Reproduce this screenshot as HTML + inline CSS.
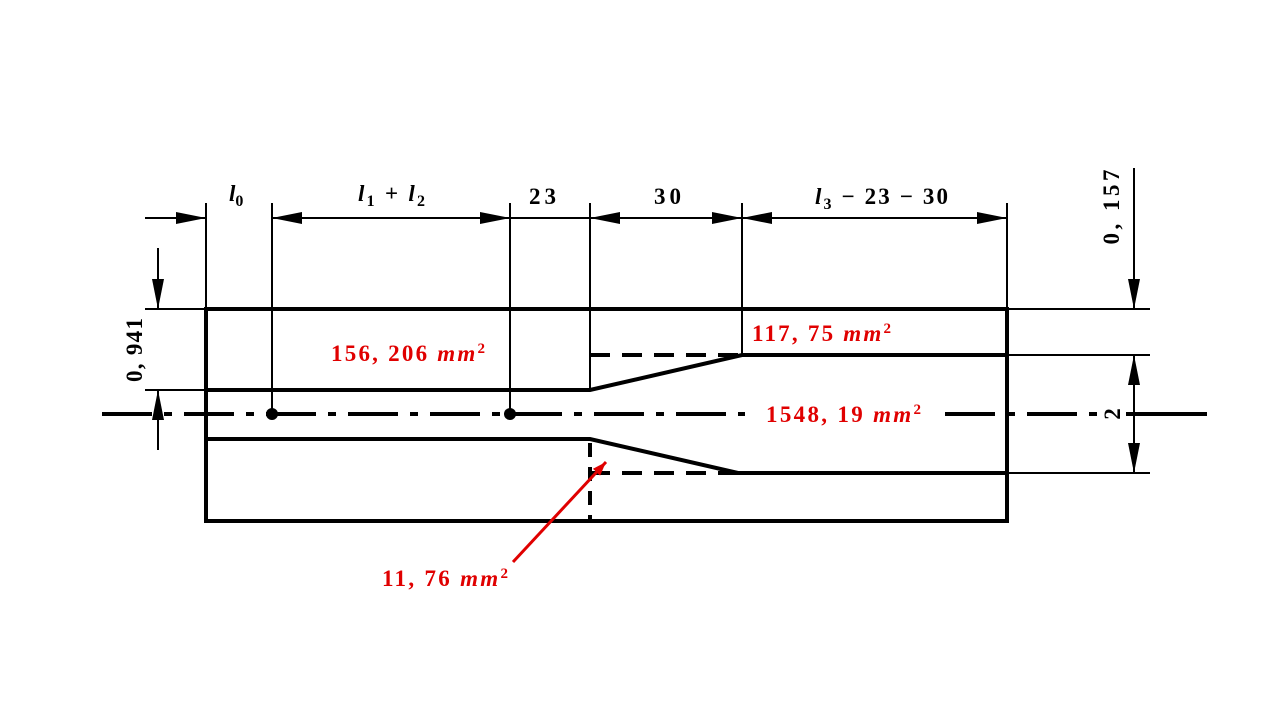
<!DOCTYPE html>
<html><head><meta charset="utf-8"><style>
html,body{margin:0;padding:0;background:#fff;}
svg{display:block;}
text{font-family:"Liberation Serif",serif;font-weight:bold;}
.t{font-size:23px;fill:#000;}
.r{font-size:23px;fill:#e00000;}
</style></head><body>
<svg width="1280" height="720" viewBox="0 0 1280 720">
<defs>
<marker id="ar" viewBox="0 0 30 12" refX="30" refY="6" markerWidth="30" markerHeight="12" markerUnits="userSpaceOnUse" orient="auto"><path d="M0,0 L30,6 L0,12 Z" fill="#000"/></marker>
<marker id="rar" viewBox="0 0 14 10" refX="14" refY="5" markerWidth="14" markerHeight="10" markerUnits="userSpaceOnUse" orient="auto"><path d="M0,0 L14,5 L0,10 Z" fill="#e00000"/></marker>
</defs>
<g stroke="#000" fill="none">
<rect x="206" y="309" width="801" height="212" stroke-width="4"/>
<polyline points="206,390 590,390 742,355 1007,355" stroke-width="4"/>
<polyline points="206,439 590,439 738,473 1007,473" stroke-width="4"/>
<line x1="590" y1="355" x2="742" y2="355" stroke-width="4" stroke-dasharray="20,12"/>
<line x1="590" y1="473" x2="738" y2="473" stroke-width="4" stroke-dasharray="20,12"/>
<line x1="590" y1="443" x2="590" y2="521" stroke-width="4" stroke-dasharray="14,10"/>
<line x1="102" y1="414" x2="745" y2="414" stroke-width="4" stroke-dasharray="50,12,8,12"/>
<line x1="945" y1="414" x2="1100" y2="414" stroke-width="4" stroke-dasharray="50,12,8,12"/>
<line x1="1126" y1="414" x2="1207" y2="414" stroke-width="4"/>
</g>
<g stroke="#000" stroke-width="2" fill="none">
<line x1="206" y1="203" x2="206" y2="309"/>
<line x1="272" y1="203" x2="272" y2="414"/>
<line x1="510" y1="203" x2="510" y2="414"/>
<line x1="590" y1="203" x2="590" y2="390"/>
<line x1="742" y1="203" x2="742" y2="355"/>
<line x1="1007" y1="203" x2="1007" y2="309"/>
<line x1="145" y1="218" x2="206" y2="218" marker-end="url(#ar)"/>
<line x1="330" y1="218" x2="272" y2="218" marker-end="url(#ar)"/>
<line x1="330" y1="218" x2="510" y2="218" marker-end="url(#ar)"/>
<line x1="510" y1="218" x2="590" y2="218"/>
<line x1="666" y1="218" x2="590" y2="218" marker-end="url(#ar)"/>
<line x1="666" y1="218" x2="742" y2="218" marker-end="url(#ar)"/>
<line x1="870" y1="218" x2="742" y2="218" marker-end="url(#ar)"/>
<line x1="870" y1="218" x2="1007" y2="218" marker-end="url(#ar)"/>
<line x1="1007" y1="309" x2="1150" y2="309"/>
<line x1="1007" y1="355" x2="1150" y2="355"/>
<line x1="1007" y1="473" x2="1150" y2="473"/>
<line x1="1134" y1="168" x2="1134" y2="309" marker-end="url(#ar)"/>
<line x1="1134" y1="414" x2="1134" y2="355" marker-end="url(#ar)"/>
<line x1="1134" y1="414" x2="1134" y2="473" marker-end="url(#ar)"/>
<line x1="145" y1="309" x2="206" y2="309"/>
<line x1="145" y1="390" x2="206" y2="390"/>
<line x1="158" y1="248" x2="158" y2="309" marker-end="url(#ar)"/>
<line x1="158" y1="450" x2="158" y2="390" marker-end="url(#ar)"/>
</g>
<circle cx="272" cy="414" r="6" fill="#000"/>
<circle cx="510" cy="414" r="6" fill="#000"/>
<text class="t" x="229" y="201"><tspan font-style="italic">l</tspan><tspan font-size="16" dy="5">0</tspan></text>
<text class="t" x="358" y="201" textLength="67"><tspan font-style="italic">l</tspan><tspan font-size="16" dy="5">1</tspan><tspan dy="-5"> + </tspan><tspan font-style="italic">l</tspan><tspan font-size="16" dy="5">2</tspan></text>
<text class="t" x="529" y="204" textLength="27">23</text>
<text class="t" x="654" y="204" textLength="27">30</text>
<text class="t" x="815" y="204" textLength="133"><tspan font-style="italic">l</tspan><tspan font-size="16" dy="5">3</tspan><tspan dy="-5"> − 23 − 30</tspan></text>
<text class="t" transform="translate(1119,207) rotate(-90)" text-anchor="middle" textLength="75">0, 157</text>
<text class="t" transform="translate(1120,414) rotate(-90)" text-anchor="middle">2</text>
<text class="t" transform="translate(142,350) rotate(-90)" text-anchor="middle" textLength="64">0, 941</text>
<text class="r" x="331" y="361" textLength="154">156, 206 <tspan font-style="italic">mm</tspan><tspan font-size="15" dy="-8">2</tspan></text>
<text class="r" x="752" y="341" textLength="139">117, 75 <tspan font-style="italic">mm</tspan><tspan font-size="15" dy="-8">2</tspan></text>
<text class="r" x="766" y="422" textLength="155">1548, 19 <tspan font-style="italic">mm</tspan><tspan font-size="15" dy="-8">2</tspan></text>
<text class="r" x="382" y="586" textLength="126">11, 76 <tspan font-style="italic">mm</tspan><tspan font-size="15" dy="-8">2</tspan></text>
<line x1="513" y1="562" x2="606" y2="462" stroke="#e00000" stroke-width="3" marker-end="url(#rar)"/>
</svg>
</body></html>
